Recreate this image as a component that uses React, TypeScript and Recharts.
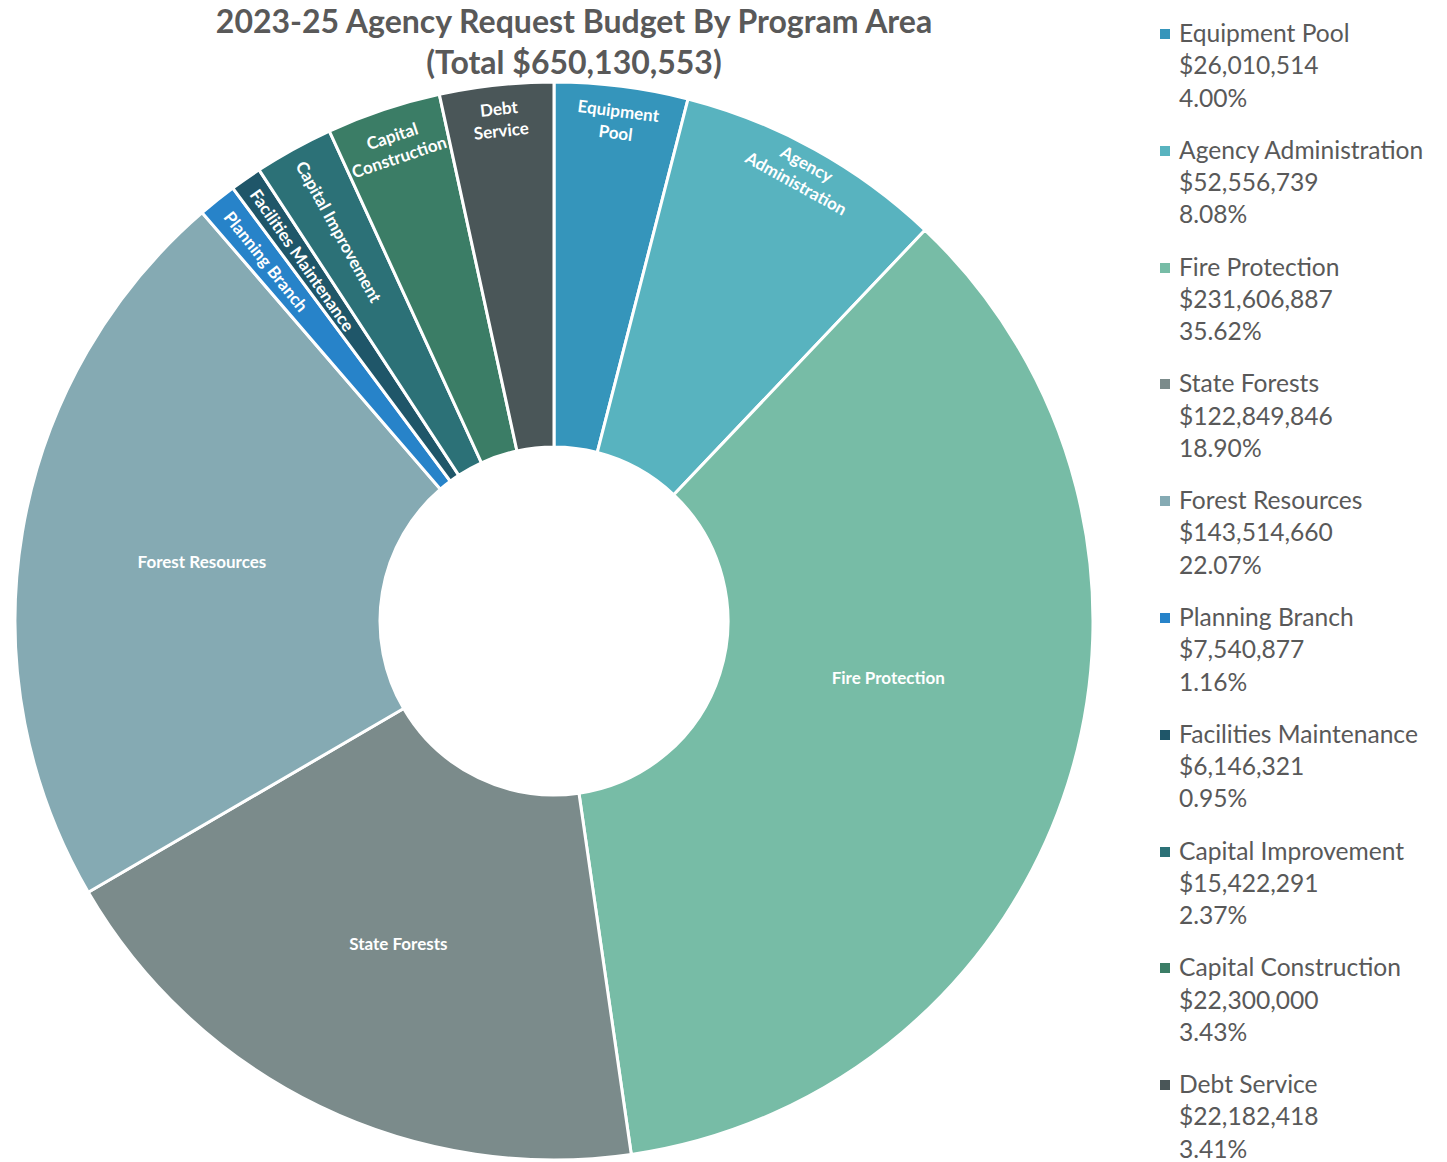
import { Cell, Legend, Pie, PieChart } from 'recharts';

const programs = [
    'Equipment Pool',
    'Agency Administration',
    'Fire Protection',
    'State Forests',
    'Forest Resources',
    'Planning Branch',
    'Facilities Maintenance',
    'Capital Improvement',
    'Capital Construction',
    'Debt Service',
];

const budgets = [
    26010514, 52556739, 231606887, 122849846, 143514660,
    7540877, 6146321, 15422291, 22300000, 22182418,
];

const colors = [
    '#3595bb', '#58b3bf', '#77bca6', '#7b8b8b', '#85aab3',
    '#2783c9', '#1f5669', '#2c7177', '#3b7d66', '#4a5658',
];

const TITLE = '2023-25 Agency Request Budget By Program Area';

// how each slice label sits: flat at the centroid, along the radius, or across it
type LabelStyle = { mode: 'flat' | 'radial' | 'tangent'; r: number; shift?: number; lines?: string[] };
const LABELS: Record<string, LabelStyle> = {
    'Equipment Pool': { mode: 'tangent', r: 504, lines: ['Equipment', 'Pool'] },
    'Agency Administration': { mode: 'tangent', r: 512, lines: ['Agency', 'Administration'] },
    'Fire Protection': { mode: 'flat', r: 339, shift: -8 },
    'State Forests': { mode: 'flat', r: 358 },
    'Forest Resources': { mode: 'flat', r: 357 },
    'Planning Branch': { mode: 'radial', r: 522 },
    'Facilities Maintenance': { mode: 'radial', r: 524 },
    'Capital Improvement': { mode: 'radial', r: 524 },
    'Capital Construction': { mode: 'tangent', r: 501, lines: ['Capital', 'Construction'] },
    'Debt Service': { mode: 'tangent', r: 505, lines: ['Debt', 'Service'] },
};

const data = programs.map((name, i) => ({ name, value: budgets[i] }));
const total = budgets.reduce((a, b) => a + b, 0);

const money = (v: number) => '$' + v.toLocaleString('en-US');
const FONT = 'Lato, "Open Sans", sans-serif';
const RAD = Math.PI / 180;

function renderLabel(props: any) {
    const { cx, cy, midAngle, name } = props;
    const cfg = LABELS[name];
    if (!cfg) return null;
    // clockwise angle from 12 o'clock
    const theta = 90 - midAngle + (cfg.shift ?? 0);
    const x = cx + cfg.r * Math.sin(theta * RAD);
    const y = cy - cfg.r * Math.cos(theta * RAD);
    const common = { fill: '#fff', fontFamily: FONT, fontWeight: 700, fontSize: 17 };

    if (cfg.mode === 'flat') {
        return (
            <text x={x} y={y} textAnchor="middle" dominantBaseline="central" {...common}>
                {name}
            </text>
        );
    }
    if (cfg.mode === 'radial') {
        return (
            <text
                x={x} y={y} textAnchor="start" dominantBaseline="central"
                transform={`rotate(${90 + theta} ${x} ${y})`} {...common}
            >
                {name}
            </text>
        );
    }
    const lines = cfg.lines ?? [name];
    const gap = 22;
    return (
        <text
            x={x} y={y} textAnchor="middle" dominantBaseline="central"
            transform={`rotate(${theta} ${x} ${y})`} {...common}
        >
            {lines.map((ln, i) => (
                <tspan key={ln} x={x} y={y + (i - (lines.length - 1) / 2) * gap}>{ln}</tspan>
            ))}
        </text>
    );
}

function renderLegend() {
    return (
        <div style={{ fontFamily: FONT, color: '#595959', fontSize: 24.6 }}>
            {data.map((d, i) => (
                <div key={d.name} style={{ position: 'relative', paddingLeft: 19, height: 116.8, lineHeight: '32.3px' }}>
                    <span style={{
                        position: 'absolute', left: 0, top: 12, width: 10, height: 10, background: colors[i],
                    }} />
                    <div>{d.name}</div>
                    <div>{money(d.value)}</div>
                    <div>{((d.value / total) * 100).toFixed(2)}%</div>
                </div>
            ))}
        </div>
    );
}

export default function App() {
    return (
        <div style={{ position: 'absolute', left: 0, top: 0, width: 1447, height: 1162, background: '#fff' }}>
            <div style={{
                position: 'absolute', left: 174, top: 0, width: 800, textAlign: 'center',
                fontFamily: FONT, fontWeight: 700, fontSize: 32, lineHeight: '41px', color: '#595959', zIndex: 2,
            }}>
                <div>{TITLE}</div>
                <div>(Total {money(total)})</div>
            </div>
            <PieChart width={1447} height={1162}>
                <Pie
                    data={data} dataKey="value" nameKey="name"
                    cx={549} cy={616} innerRadius={174} outerRadius={539}
                    startAngle={90} endAngle={-270}
                    stroke="#fff" strokeWidth={3}
                    label={renderLabel} labelLine={false}
                    isAnimationActive={false}
                >
                    {data.map((d, i) => <Cell key={d.name} fill={colors[i]} />)}
                </Pie>
                <Legend
                    content={renderLegend}
                    wrapperStyle={{ left: 1160, top: 17, width: 287 }}
                />
            </PieChart>
        </div>
    );
}
